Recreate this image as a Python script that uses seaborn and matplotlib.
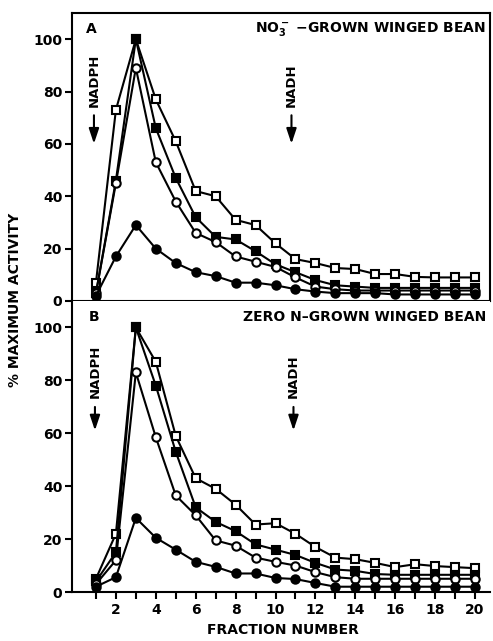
import numpy as np
import pandas as pd
import matplotlib
matplotlib.use("Agg")
import matplotlib.pyplot as plt
import seaborn as sns

fractions = list(range(1, 21))

# Panel A: NO3- grown winged bean
a_open_sq = [7, 73, 100, 77, 61, 42, 40, 31, 29, 22, 16, 14.5, 12.6, 12.2, 10.3, 10.3, 9.2, 9, 9, 9]
a_filled_sq = [3, 46, 100, 66, 47, 32, 24.5, 23.5, 19, 14, 11, 8, 6, 5.5, 5, 5, 5, 5, 5, 5]
a_open_ci = [3, 45, 89, 53, 38, 26, 22.5, 17, 15, 13, 9, 5.5, 4.5, 4, 4, 4, 4, 4, 4, 4]
a_filled_ci = [2, 17, 29, 20, 14.5, 11, 9.5, 7, 7, 6, 4.5, 3.6, 3, 3, 3, 2.5, 2.5, 2.5, 2.5, 2.5]

# Panel B: zero N grown winged bean
b_open_sq = [5, 22, 100, 87, 59, 43, 39, 33, 25.5, 26, 22, 17, 13, 12.4, 11, 9.4, 10.5, 9.8, 9.4, 9]
b_filled_sq = [4, 15, 100, 78, 53, 32, 26.5, 23, 18, 16, 14, 11, 8.5, 8, 6.8, 6.5, 6.5, 6.5, 6.5, 6.5]
b_open_ci = [3, 12, 83, 58.5, 36.5, 29, 19.5, 17.5, 13, 11.4, 10, 7.5, 5.6, 5, 5, 5, 5, 5, 5, 5]
b_filled_ci = [2, 5.6, 28, 20.5, 16, 11.4, 9.5, 7, 7, 5.3, 4.9, 3.4, 2, 2, 2, 2, 2, 2, 2, 2]

y_ticks = [0, 20, 40, 60, 80, 100]
x_ticks = list(range(1, 21))
x_ticklabels = [str(v) if v % 2 == 0 else "" for v in x_ticks]

sns.set_style("ticks")
plt.rcParams["font.family"] = ["DejaVu Sans"]
plt.rcParams["font.weight"] = "bold"
plt.rcParams["mathtext.fontset"] = "dejavusans"
plt.rcParams["mathtext.default"] = "bf"
for k in ["text.color", "axes.labelcolor", "xtick.color", "ytick.color", "axes.edgecolor"]:
    plt.rcParams[k] = "black"

fig = plt.figure(figsize=(4.93, 6.41), dpi=100)
W, H = 493, 641
def ax_rect(l, t, r, b):
    return [l / W, 1 - b / H, (r - l) / W, (b - t) / H]

axA = fig.add_axes(ax_rect(72, 13, 490, 301))
axB = fig.add_axes(ax_rect(72, 301, 490, 592))

series_style = [
    ("s", "white"),
    ("s", "black"),
    ("o", "white"),
    ("o", "black"),
]

def draw(ax, data):
    for vals, (mk, fc) in zip(data, series_style):
        ms = 5.5 if mk == "s" else 6.0
        sns.lineplot(x=fractions, y=vals, ax=ax, color="black", linewidth=1.5,
                     marker=mk, markersize=ms, markerfacecolor=fc,
                     markeredgecolor="black", markeredgewidth=1.5,
                     clip_on=False, zorder=3)
    ax.set_xlim(-0.2, 20.75)
    ax.set_ylim(0, 110)
    ax.set_yticks(y_ticks)
    ax.set_yticklabels([str(v) for v in y_ticks], fontsize=10, fontweight="bold")
    ax.tick_params(axis="y", direction="out", length=5, width=1.5, pad=2, colors="black")
    ax.set_xlabel("")
    ax.set_ylabel("")

draw(axA, [a_open_sq, a_filled_sq, a_open_ci, a_filled_ci])
draw(axB, [b_open_sq, b_filled_sq, b_open_ci, b_filled_ci])

for sp in axA.spines.values():
    sp.set_linewidth(1.5)
    sp.set_color("black")
axA.set_xticks([])

for sp in ["left", "bottom"]:
    axB.spines[sp].set_linewidth(1.5)
    axB.spines[sp].set_color("black")
axB.spines["top"].set_visible(False)
axB.spines["right"].set_visible(False)
axB.set_xticks(x_ticks)
axB.set_xticklabels(x_ticklabels, fontsize=10, fontweight="bold")
axB.tick_params(axis="x", direction="out", length=5, width=1.5, pad=3, colors="black")

def label_arrow(ax, x, label, y_text_bottom, y_arrow_top, y_arrow_bottom):
    ax.text(x, y_text_bottom, label, rotation=90, ha="center", va="bottom",
            fontsize=9.5, fontweight="bold", color="black")
    ax.annotate("", xy=(x, y_arrow_bottom), xytext=(x, y_arrow_top),
                arrowprops=dict(arrowstyle="-|>,head_length=0.9,head_width=0.3",
                                color="black", lw=1.5))

label_arrow(axA, 0.9, "NADPH", 74, 72, 59)
label_arrow(axA, 10.8, "NADH", 74, 72, 59)
label_arrow(axB, 0.95, "NADPH", 73.5, 71, 60)
label_arrow(axB, 10.9, "NADH", 73.5, 71, 60)

axA.text(0.75, 104, "A", fontsize=10, fontweight="bold", ha="center", va="center")
axB.text(0.9, 104, "B", fontsize=10, fontweight="bold", ha="center", va="center")
axA.text(20.55, 104, r"NO$_3^-$ $-$GROWN WINGED BEAN", fontsize=10,
         fontweight="bold", ha="right", va="center")
axB.text(20.55, 104, "ZERO N\u2013GROWN WINGED BEAN", fontsize=10,
         fontweight="bold", ha="right", va="center")

fig.text(15 / W, 1 - 300 / H, "% MAXIMUM ACTIVITY", rotation=90, ha="center",
         va="center", fontsize=10, fontweight="bold")
fig.text(283 / W, 1 - 630 / H, "FRACTION NUMBER", ha="center", va="center",
         fontsize=10, fontweight="bold")

fig.savefig("out.png", dpi=100)
